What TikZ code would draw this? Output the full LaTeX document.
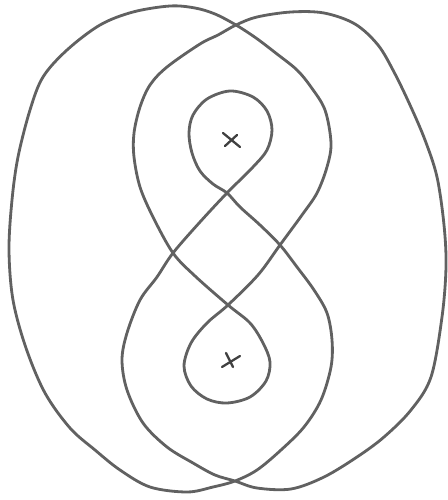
\documentclass[tikz,border=0pt]{standalone}
\begin{document}
\begin{tikzpicture}[x=0.02cm,y=-0.02cm,
  pencil/.style={draw=black!62,line width=1.6pt,line cap=round,line join=round},
  xmark/.style={draw=black!75,line width=1.3pt,line cap=round}]
\useasboundingbox (0,0) rectangle (448,500);
\draw[pencil] plot[smooth cycle,tension=0.55] coordinates {
 (236,25) (215,14) (195,8) (170,6) (133,12) (100,25) (67,50) (43,77) (30,110) (18,157) (12,200) (9,250)
 (13,300) (26,348) (45,393) (70,428) (95,450) (120,470) (150,487) (187,492) (213,487) (235,481)
 (257,470) (281,450) (304,427) (321,400) (331,367) (332,340) (327,313) (314,290) (297,267) (280,245)
 (260,225) (240,207) (227,193) (213,184) (200,171) (192,153) (189,133) (193,115) (207,99) (230,91)
 (253,97) (267,111) (272,130) (267,150) (253,167) (227,193) (200,222) (173,253) (157,277) (140,300)
 (127,333) (122,360) (127,390) (143,423) (167,447) (193,463) (215,475) (235,481) (257,488) (291,489)
 (324,477) (357,457) (384,437) (411,410) (431,377) (442,317) (446,267) (444,225) (437,177) (425,140)
 (410,105) (394,72) (378,45) (355,24) (324,13) (291,12) (257,17) (236,25) (218,35) (200,44) (167,67)
 (150,85) (140,107) (134,133) (134,157) (140,187) (153,217) (173,253) (195,276) (228,305) (250,323)
 (263,343) (270,362) (266,381) (250,397) (227,403) (207,399) (191,386) (184,366) (191,343) (207,323)
 (228,305) (258,275) (280,245) (302,215) (317,193) (327,167) (331,143) (325,110) (311,87) (297,70)
 (277,54) (256,38)
};
\coordinate (p1a) at (223,133); \coordinate (p1b) at (240,147);
\coordinate (p1c) at (237,135); \coordinate (p1d) at (225,146);
\draw[xmark] (p1a) -- (p1b);
\draw[xmark] (p1c) -- (p1d);
\coordinate (p2a) at (226,353); \coordinate (p2b) at (233,367);
\coordinate (p2c) at (240,356); \coordinate (p2d) at (222,367);
\draw[xmark] (p2a) -- (p2b);
\draw[xmark] (p2c) -- (p2d);
\end{tikzpicture}
\end{document}
